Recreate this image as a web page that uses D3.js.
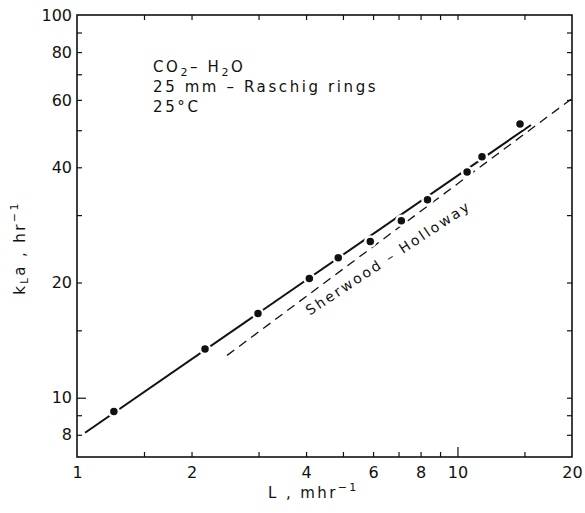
<!DOCTYPE html>
<html>
<head>
<meta charset="utf-8">
<script src="https://cdn.jsdelivr.net/npm/d3@7"></script>
<style>
  body { margin: 0; background: #fff; }
  svg { font-family: "DejaVu Sans", sans-serif; }
</style>
</head>
<body>
<svg></svg>
<script>
var width = 585;
var height = 513;

// data
var lValues   = [1.25, 2.17, 2.99, 4.08, 4.86, 5.90, 7.12, 8.34, 10.6, 11.6, 14.6];
var kLaValues = [9.2, 13.4, 16.6, 20.5, 23.2, 25.6, 29.0, 32.9, 38.9, 42.6, 51.9];
var fitLine = [{l: 1.05, k: 8.1}, {l: 15.6, k: 51.6}];
var sherwoodLine = [{l: 2.48, k: 12.9}, {l: 20, k: 60.5}];

var xTicks  = [1.5, 2, 3, 4, 5, 6, 7, 8, 9, 10, 15];
var xLabels = [1, 2, 4, 6, 8, 10, 20];
var yTicks  = [8, 9, 10, 15, 20, 30, 40, 50, 60, 70, 80, 90];
var yLabels = [8, 10, 20, 40, 60, 80, 100];

var points = lValues.map((l, i) => ({l: l, k: kLaValues[i]}));

var x = d3.scaleLog().domain([1, 20]).range([77, 572]);
var y = d3.scaleLog().domain([7, 100]).range([457, 15]);

var svg = d3.select('svg')
    .attr('width', width)
    .attr('height', height);

//tick marks, all pointing inwards
function ticks(g, axis, vals, len, bigLen, horiz) {
  g.call(axis.tickValues(vals).tickSize(len).tickSizeOuter(0).tickFormat(''));
  g.select('.domain').remove();
  g.selectAll('.tick line')
      .attr('stroke', '#111')
      .attr('stroke-width', 1.2)
      .filter(d => d === 10)
      .attr(horiz ? 'y2' : 'x2', bigLen);
}

svg.append('g').attr('transform', 'translate(0,' + y.range()[0] + ')')
    .call(ticks, d3.axisBottom(x), xTicks, -5, -10, true);
svg.append('g').attr('transform', 'translate(0,' + y.range()[1] + ')')
    .call(ticks, d3.axisTop(x), xTicks, -5, 5, true);
svg.append('g').attr('transform', 'translate(' + x.range()[0] + ',0)')
    .call(ticks, d3.axisLeft(y), yTicks, -5, 9, false);
svg.append('g').attr('transform', 'translate(' + x.range()[1] + ',0)')
    .call(ticks, d3.axisRight(y), yTicks, -5, -5, false);

//labels
var xl = svg.append('g').attr('transform', 'translate(0,' + y.range()[0] + ')')
    .call(d3.axisBottom(x).tickValues(xLabels).tickSize(0).tickPadding(10).tickFormat(d3.format('d')));
var yl = svg.append('g').attr('transform', 'translate(' + x.range()[0] + ',0)')
    .call(d3.axisLeft(y).tickValues(yLabels).tickSize(0).tickPadding(5).tickFormat(d3.format('d')));
[xl, yl].forEach(g => {
  g.select('.domain').remove();
  g.selectAll('text').attr('font-size', 16).attr('font-family', '"DejaVu Sans"').attr('fill', '#111');
});

//frame
svg.append('rect')
    .attr('x', x.range()[0])
    .attr('y', y.range()[1])
    .attr('width', x.range()[1] - x.range()[0])
    .attr('height', y.range()[0] - y.range()[1])
    .attr('fill', 'none')
    .attr('stroke', '#111')
    .attr('stroke-width', 1.6);

var line = d3.line().x(d => x(d.l)).y(d => y(d.k));

svg.append('path')
    .datum(sherwoodLine)
    .attr('d', line)
    .attr('fill', 'none')
    .attr('stroke', '#111')
    .attr('stroke-width', 1.3)
    .attr('stroke-dasharray', '9,6');

svg.append('path')
    .datum(fitLine)
    .attr('d', line)
    .attr('fill', 'none')
    .attr('stroke', '#111')
    .attr('stroke-width', 2);

svg.selectAll('.pt')
    .data(points)
  .enter()
  .append('circle')
    .classed('pt', true)
    .attr('cx', d => x(d.l))
    .attr('cy', d => y(d.k))
    .attr('r', 5)
    .attr('fill', '#111')
    .attr('stroke', '#fff')
    .attr('stroke-width', 2.5);

//annotation
var note = svg.append('text')
    .attr('font-size', 15)
    .attr('letter-spacing', 2.6)
    .attr('fill', '#111');
var l1 = note.append('tspan').attr('x', 153).attr('y', 72);
l1.append('tspan').text('CO');
l1.append('tspan').attr('font-size', 11).attr('dy', 4).text('2');
l1.append('tspan').attr('dy', -4).text('– H');
l1.append('tspan').attr('font-size', 11).attr('dy', 4).text('2');
l1.append('tspan').attr('dy', -4).text('O');
note.append('tspan').attr('x', 153).attr('y', 92).text('25 mm – Raschig rings');
note.append('tspan').attr('x', 153).attr('y', 112).text('25°C');

svg.append('text')
    .attr('transform', 'translate(391,262) rotate(-33.5)')
    .attr('text-anchor', 'middle')
    .attr('font-size', 14)
    .attr('letter-spacing', 2.4)
    .attr('fill', '#111')
    .text('Sherwood – Holloway');

//axis titles
var xt = svg.append('text')
    .attr('x', 268)
    .attr('y', 498)
    .attr('font-size', 15)
    .attr('letter-spacing', 2.4)
    .attr('fill', '#111');
xt.append('tspan').text('L ,  mhr');
xt.append('tspan').attr('font-size', 11).attr('dy', -7).text('−1');

var yt = svg.append('text')
    .attr('transform', 'translate(25,248) rotate(-90)')
    .attr('text-anchor', 'middle')
    .attr('font-size', 15)
    .attr('letter-spacing', 2.4)
    .attr('fill', '#111');
yt.append('tspan').text('k');
yt.append('tspan').attr('font-size', 10).attr('dy', 3).text('L');
yt.append('tspan').attr('dy', -3).text('a ,  hr');
yt.append('tspan').attr('font-size', 11).attr('dy', -7).text('−1');
</script>
</body>
</html>
